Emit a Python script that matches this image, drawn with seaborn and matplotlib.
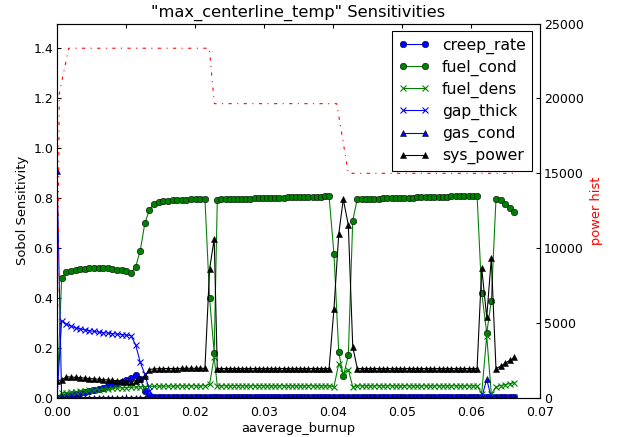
import matplotlib
matplotlib.use('Agg')
import matplotlib.pyplot as plt
from matplotlib.ticker import FormatStrFormatter
import seaborn as sns

# burnup steps (x) shared by all sensitivity series
burnup = [
    0.0, 0.00067, 0.00134, 0.00201, 0.00268, 0.00335, 0.00402, 0.00469, 0.00536,
    0.00603, 0.0067, 0.00737, 0.00804, 0.00871, 0.00938, 0.01005, 0.01072,
    0.01139, 0.01206, 0.01273, 0.0134,
    0.01407, 0.01474, 0.01541, 0.01608, 0.01675, 0.01742, 0.01809, 0.01876,
    0.01943, 0.0201, 0.02077, 0.02144,
    0.02211, 0.02278,
    0.02323, 0.02383, 0.02443, 0.02503, 0.02563, 0.02623, 0.02683, 0.02743,
    0.02803, 0.02863, 0.02923, 0.02983, 0.03043, 0.03103, 0.03163, 0.03223,
    0.03283, 0.03343, 0.03403, 0.03463, 0.03523, 0.03583, 0.03643, 0.03703,
    0.03763, 0.03823, 0.03883, 0.03943,
    0.04014, 0.04083, 0.04149, 0.04222, 0.04286,
    0.04352, 0.04414, 0.04476, 0.04538, 0.046, 0.04662, 0.04724, 0.04786,
    0.04848, 0.0491, 0.04972, 0.05034, 0.05096, 0.05158, 0.0522, 0.05282,
    0.05344, 0.05406, 0.05468, 0.0553, 0.05592, 0.05654, 0.05716, 0.05778,
    0.0584, 0.05902, 0.05964, 0.06026, 0.06088,
    0.06155, 0.06228, 0.06294,
    0.06362, 0.0643, 0.06497, 0.06565, 0.06628,
]

creep_rate = [
    0.0, 0.004, 0.008, 0.012, 0.016, 0.02, 0.024, 0.028, 0.032, 0.037, 0.042,
    0.047, 0.053, 0.06, 0.066, 0.073, 0.08,
    0.091, 0.075, 0.03, 0.008,
    0.003, 0.003, 0.003, 0.003, 0.003, 0.003, 0.003, 0.003, 0.003, 0.003, 0.003, 0.003,
    0.003, 0.003,
    0.003, 0.003, 0.003, 0.003, 0.003, 0.003, 0.003, 0.003, 0.003, 0.003, 0.003, 0.003,
    0.003, 0.003, 0.003, 0.003, 0.003, 0.003, 0.003, 0.003, 0.003, 0.003, 0.003, 0.003,
    0.003, 0.003, 0.003, 0.003,
    0.003, 0.003, 0.003, 0.003, 0.003,
    0.003, 0.003, 0.003, 0.003, 0.003, 0.003, 0.003, 0.003, 0.003, 0.003, 0.003, 0.003,
    0.003, 0.003, 0.003, 0.003, 0.003, 0.003, 0.003, 0.003, 0.003, 0.003, 0.003, 0.003,
    0.003, 0.003, 0.003, 0.003, 0.003,
    0.003, 0.003, 0.003,
    0.003, 0.003, 0.003, 0.003, 0.003,
]

fuel_cond = [
    0.0, 0.48, 0.505, 0.51, 0.513, 0.516, 0.518, 0.52, 0.521, 0.521, 0.52,
    0.519, 0.517, 0.514, 0.511, 0.507, 0.502,
    0.525, 0.59, 0.70, 0.755,
    0.778, 0.785, 0.788, 0.79, 0.792, 0.793, 0.794, 0.795, 0.796, 0.797, 0.798, 0.799,
    0.40, 0.18,
    0.795, 0.796, 0.796, 0.797, 0.797, 0.798, 0.798, 0.799, 0.799, 0.8, 0.8, 0.801,
    0.801, 0.802, 0.802, 0.803, 0.803, 0.804, 0.804, 0.805, 0.805, 0.806, 0.806, 0.807,
    0.807, 0.807, 0.808, 0.808,
    0.577, 0.184, 0.087, 0.171, 0.711,
    0.797, 0.797, 0.798, 0.798, 0.799, 0.799, 0.8, 0.8, 0.801, 0.801, 0.802, 0.802,
    0.803, 0.803, 0.804, 0.804, 0.805, 0.805, 0.806, 0.806, 0.807, 0.807, 0.808, 0.808,
    0.809, 0.809, 0.81, 0.81, 0.81,
    0.422, 0.26, 0.389,
    0.797, 0.792, 0.779, 0.762, 0.747,
]

fuel_dens = [
    0.0, 0.02, 0.022, 0.024, 0.026, 0.028, 0.03, 0.031, 0.033, 0.034, 0.036,
    0.037, 0.039, 0.04, 0.041, 0.042, 0.043,
    0.044, 0.045, 0.046, 0.047,
    0.047, 0.048, 0.048, 0.048, 0.048, 0.049, 0.049, 0.049, 0.049, 0.049, 0.049, 0.049,
    0.055, 0.165,
    0.049, 0.049, 0.049, 0.049, 0.05, 0.05, 0.049, 0.049, 0.049, 0.049, 0.05, 0.05,
    0.049, 0.049, 0.049, 0.049, 0.049, 0.049, 0.049, 0.049, 0.049, 0.049, 0.049, 0.049,
    0.049, 0.049, 0.049, 0.049,
    0.045, 0.138, 0.10, 0.114, 0.045,
    0.049, 0.049, 0.049, 0.049, 0.049, 0.049, 0.049, 0.049, 0.049, 0.049, 0.049, 0.049,
    0.049, 0.049, 0.049, 0.049, 0.049, 0.049, 0.049, 0.049, 0.049, 0.049, 0.049, 0.049,
    0.049, 0.049, 0.049, 0.049, 0.049,
    0.018, 0.25, 0.015,
    0.045, 0.05, 0.054, 0.058, 0.062,
]

gap_thick = [
    0.0, 0.31, 0.296, 0.288, 0.281, 0.277, 0.273, 0.27, 0.267, 0.264, 0.262,
    0.26, 0.258, 0.256, 0.254, 0.252, 0.25,
    0.213, 0.144, 0.095, 0.03,
    0.004, 0.004, 0.004, 0.004, 0.004, 0.004, 0.004, 0.004, 0.004, 0.004, 0.004, 0.004,
    0.004, 0.004,
    0.004, 0.004, 0.004, 0.004, 0.004, 0.004, 0.004, 0.004, 0.004, 0.004, 0.004, 0.004,
    0.004, 0.004, 0.004, 0.004, 0.004, 0.004, 0.004, 0.004, 0.004, 0.004, 0.004, 0.004,
    0.004, 0.004, 0.004, 0.004,
    0.004, 0.004, 0.004, 0.004, 0.004,
    0.004, 0.004, 0.004, 0.004, 0.004, 0.004, 0.004, 0.004, 0.004, 0.004, 0.004, 0.004,
    0.004, 0.004, 0.004, 0.004, 0.004, 0.004, 0.004, 0.004, 0.004, 0.004, 0.004, 0.004,
    0.004, 0.004, 0.004, 0.004, 0.004,
    0.004, 0.004, 0.004,
    0.004, 0.004, 0.004, 0.004, 0.004,
]

gas_cond = [
    0.91, 0.002, 0.002, 0.002, 0.002, 0.002, 0.002, 0.002, 0.002, 0.002, 0.002,
    0.002, 0.002, 0.002, 0.002, 0.002, 0.002,
    0.002, 0.002, 0.002, 0.002,
    0.002, 0.002, 0.002, 0.002, 0.002, 0.002, 0.002, 0.002, 0.002, 0.002, 0.002, 0.002,
    0.002, 0.002,
    0.002, 0.002, 0.002, 0.002, 0.002, 0.002, 0.002, 0.002, 0.002, 0.002, 0.002, 0.002,
    0.002, 0.002, 0.002, 0.002, 0.002, 0.002, 0.002, 0.002, 0.002, 0.002, 0.002, 0.002,
    0.002, 0.002, 0.002, 0.002,
    0.002, 0.002, 0.002, 0.002, 0.002,
    0.002, 0.002, 0.002, 0.002, 0.002, 0.002, 0.002, 0.002, 0.002, 0.002, 0.002, 0.002,
    0.002, 0.002, 0.002, 0.002, 0.002, 0.002, 0.002, 0.002, 0.002, 0.002, 0.002, 0.002,
    0.002, 0.002, 0.002, 0.002, 0.002,
    0.002, 0.075, 0.002,
    0.002, 0.002, 0.002, 0.002, 0.002,
]

sys_power = [
    0.07, 0.072, 0.085, 0.084, 0.083, 0.081, 0.08, 0.078, 0.077, 0.075, 0.074,
    0.072, 0.071, 0.069, 0.068, 0.066, 0.065,
    0.07, 0.078, 0.087, 0.114,
    0.117, 0.117, 0.118, 0.118, 0.118, 0.118, 0.119, 0.119, 0.119, 0.119, 0.119, 0.119,
    0.515, 0.638,
    0.118, 0.118, 0.118, 0.118, 0.118, 0.118, 0.118, 0.118, 0.118, 0.118, 0.118, 0.118,
    0.118, 0.118, 0.118, 0.118, 0.118, 0.118, 0.118, 0.118, 0.118, 0.118, 0.118, 0.118,
    0.118, 0.118, 0.118, 0.118,
    0.358, 0.656, 0.796, 0.693, 0.206,
    0.118, 0.118, 0.118, 0.118, 0.118, 0.118, 0.118, 0.118, 0.118, 0.118, 0.118, 0.118,
    0.118, 0.118, 0.118, 0.118, 0.118, 0.118, 0.118, 0.118, 0.118, 0.118, 0.118, 0.118,
    0.118, 0.118, 0.118, 0.118, 0.118,
    0.52, 0.324, 0.559,
    0.118, 0.127, 0.14, 0.151, 0.163,
]

# power history (right axis)
power_burnup = [0.0, 0.00033, 0.0017, 0.02207, 0.0228, 0.04054, 0.04222, 0.06628]
power_hist = [0, 20340, 23350, 23350, 19650, 19650, 15000, 15000]

series = [
    ('creep_rate', creep_rate, 'blue', 'o'),
    ('fuel_cond', fuel_cond, 'green', 'o'),
    ('fuel_dens', fuel_dens, 'green', 'x'),
    ('gap_thick', gap_thick, 'blue', 'x'),
    ('gas_cond', gas_cond, 'blue', '^'),
    ('sys_power', sys_power, 'black', '^'),
]

sns.set_style('ticks', {
    'axes.edgecolor': 'black',
    'xtick.color': 'black',
    'ytick.color': 'black',
    'axes.labelcolor': 'black',
    'text.color': 'black',
    'xtick.direction': 'in',
    'ytick.direction': 'in',
})
plt.rcParams['font.family'] = 'DejaVu Sans'

DPI = 78
fig = plt.figure(figsize=(617 / DPI, 437 / DPI), dpi=DPI)
ax = fig.add_axes([0.0924, 0.0892, 0.7828, 0.857])

for nombre, valores, color, marca in series:
    if marca == 'x':
        borde, grosor = color, 1.0
    else:
        borde, grosor = 'black', 0.5
    sns.lineplot(x=burnup, y=valores, color=color, marker=marca,
                 markersize=6, markeredgewidth=grosor, markeredgecolor=borde,
                 linewidth=1, label=nombre, legend=False, ax=ax)

ax.set_xlim(0, 0.07)
ax.set_ylim(0, 1.5)
ax.set_xticks([0.0, 0.01, 0.02, 0.03, 0.04, 0.05, 0.06, 0.07])
ax.set_yticks([0.0, 0.2, 0.4, 0.6, 0.8, 1.0, 1.2, 1.4])
ax.xaxis.set_major_formatter(FormatStrFormatter('%.2f'))
ax.yaxis.set_major_formatter(FormatStrFormatter('%.1f'))
ax.tick_params(direction='in', length=4, width=1, top=True, labelsize=11.5)
ax.tick_params(axis='x', pad=7)
ax.set_xlabel('aaverage_burnup', fontsize=12, labelpad=3)
ax.set_ylabel('Sobol Sensitivity', fontsize=12)
ax.set_title('"max_centerline_temp" Sensitivities', fontsize=15)

ax2 = ax.twinx()
sns.lineplot(x=power_burnup, y=power_hist, color='red',
             linestyle=(0, (3, 5, 1, 5)), linewidth=1, ax=ax2)
ax2.set_ylim(0, 25000)
ax2.set_yticks([0, 5000, 10000, 15000, 20000, 25000])
ax2.tick_params(direction='in', length=4, width=1, labelsize=11.5)
ax2.set_ylabel('power hist', color='red', fontsize=12, labelpad=6)

for a in (ax, ax2):
    for s in a.spines.values():
        s.set_linewidth(1)
        s.set_color('black')

handles, labels = ax.get_legend_handles_labels()
if ax.get_legend() is not None:
    ax.get_legend().remove()
leg = ax2.legend(handles, labels, loc='upper right', numpoints=2, fancybox=False,
                 framealpha=1, edgecolor='black', fontsize=14.4, borderpad=0.4,
                 handlelength=2, handletextpad=0.8, labelspacing=0.38,
                 borderaxespad=0.5)
leg.get_frame().set_linewidth(1)

fig.savefig('out.png', dpi=DPI)
